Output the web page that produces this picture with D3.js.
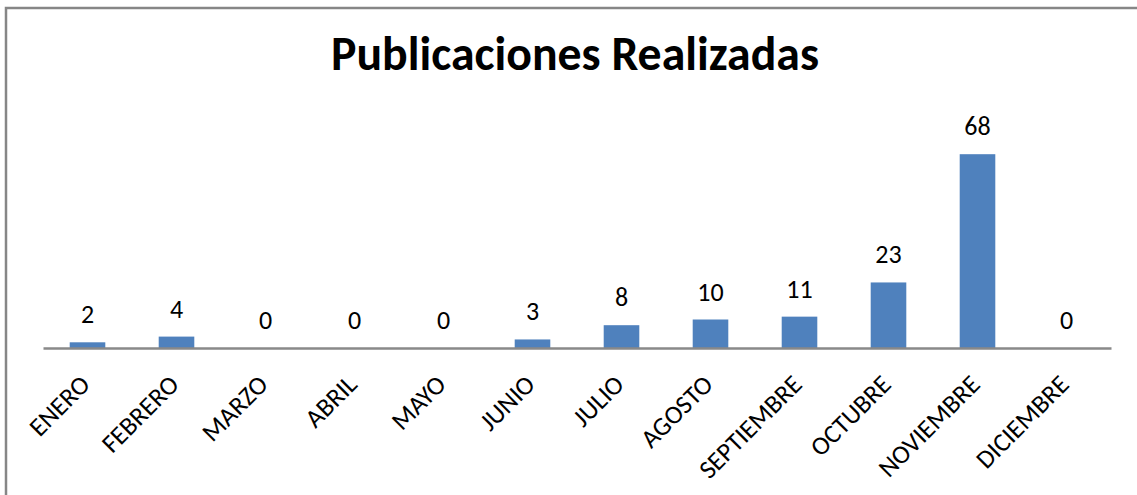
<!DOCTYPE html>
<html><head><meta charset="utf-8">
<script src="https://cdn.jsdelivr.net/npm/d3@7"></script>
<style>html,body{margin:0;padding:0;background:#fff;overflow:hidden}</style>
</head><body>
<svg id="c" width="1137" height="495"></svg>
<script>
const title = "Publicaciones Realizadas";
const categories = ["ENERO","FEBRERO","MARZO","ABRIL","MAYO","JUNIO","JULIO","AGOSTO","SEPTIEMBRE","OCTUBRE","NOVIEMBRE","DICIEMBRE"];
const values = [2,4,0,0,0,3,8,10,11,23,68,0];
const yMax = 80;

const FONT = "Carlito, Calibri, Lato, 'Open Sans', sans-serif";
const svg = d3.select("#c");
const W = 1137, H = 495;
svg.append("rect").attr("width",W).attr("height",H).attr("fill","#fff");
svg.append("path").attr("d",`M6,${H} V8 H${W}`).attr("fill","none").attr("stroke","#868686").attr("stroke-width",2.5);

const x = d3.scaleBand().domain(categories).range([43,1111]).paddingInner(0.6).paddingOuter(0.3);
const y = d3.scaleLinear().domain([0,yMax]).range([348,120]);

svg.append("g").selectAll("rect").data(values).join("rect")
  .attr("x",(d,i)=>x(categories[i]))
  .attr("width",x.bandwidth())
  .attr("y",d=>y(d))
  .attr("height",d=>y(0)-y(d))
  .attr("fill","#4f81bd");

const xAxis = svg.append("g").attr("transform",`translate(0,${y(0)})`)
  .call(d3.axisBottom(x).tickSize(0).tickSizeOuter(0).tickPadding(0));
xAxis.select(".domain").attr("stroke","#898989").attr("stroke-width",2.5);
xAxis.selectAll(".tick text")
  .attr("font-family",FONT).attr("font-size",26).attr("fill","#000")
  .attr("text-anchor","end").attr("dy",null).attr("y",0)
  .attr("transform","translate(4,38) rotate(-45)");

svg.append("g").selectAll("text").data(values).join("text")
  .attr("x",(d,i)=>x(categories[i])+x.bandwidth()/2)
  .attr("y",d=>y(d)-19)
  .attr("text-anchor","middle")
  .attr("font-family",FONT).attr("font-size",26).attr("fill","#000")
  .text(d=>d);

const t = svg.append("text").attr("x",575).attr("y",70).attr("text-anchor","middle")
  .attr("font-family",FONT).attr("font-weight","bold").attr("font-size",40).attr("fill","#000")
  .text(title);
const tw = t.node().getComputedTextLength();
t.attr("font-size", 40*488/tw);
</script>
</body></html>
